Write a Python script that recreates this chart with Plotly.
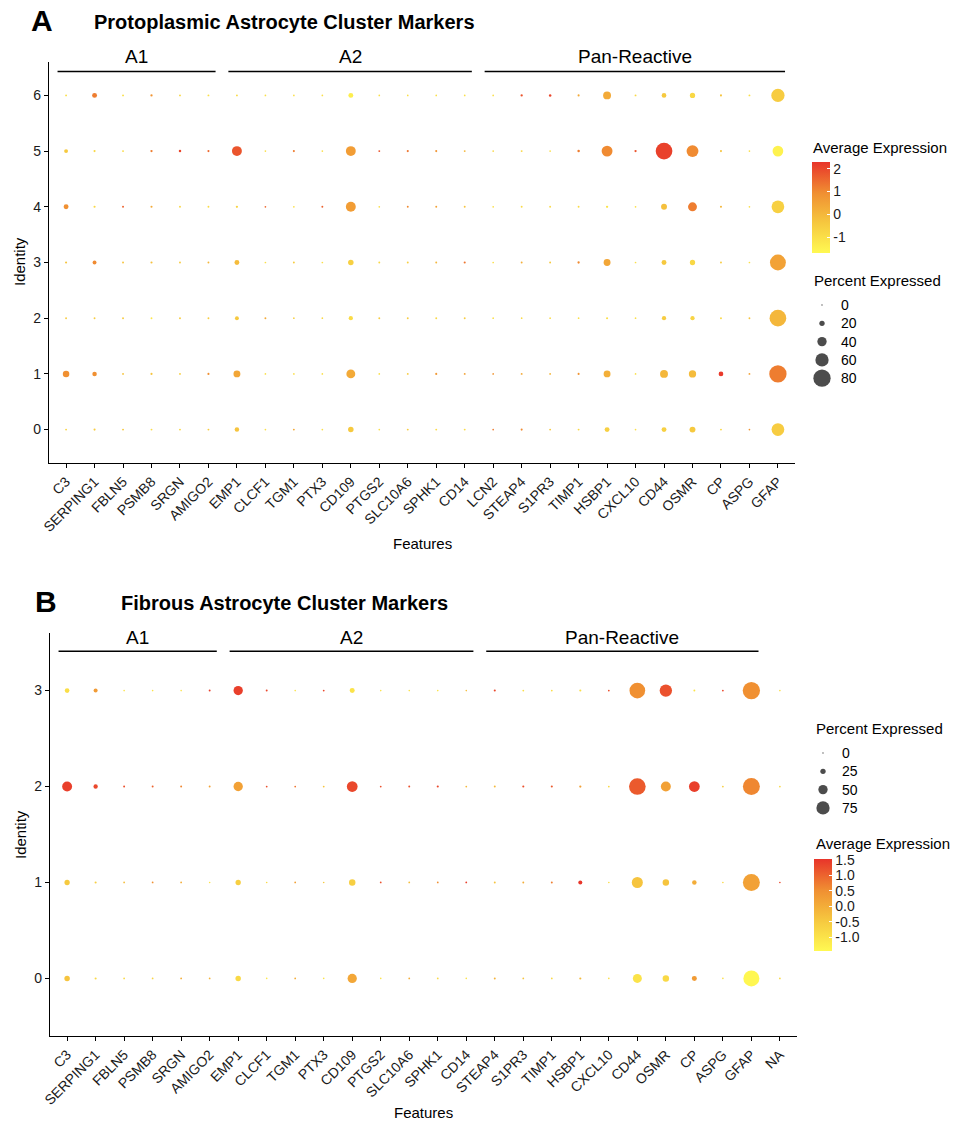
import plotly.graph_objects as go

# ---------------- data ----------------
features_A = ["C3", "SERPING1", "FBLN5", "PSMB8", "SRGN", "AMIGO2", "EMP1", "CLCF1", "TGM1",
              "PTX3", "CD109", "PTGS2", "SLC10A6", "SPHK1", "CD14", "LCN2", "STEAP4", "S1PR3",
              "TIMP1", "HSBP1", "CXCL10", "CD44", "OSMR", "CP", "ASPG", "GFAP"]
features_B = ["C3", "SERPING1", "FBLN5", "PSMB8", "SRGN", "AMIGO2", "EMP1", "CLCF1", "TGM1",
              "PTX3", "CD109", "PTGS2", "SLC10A6", "SPHK1", "CD14", "STEAP4", "S1PR3",
              "TIMP1", "HSBP1", "CXCL10", "CD44", "OSMR", "CP", "ASPG", "GFAP", "NA"]
identities_A = [0, 1, 2, 3, 4, 5, 6]
identities_B = [0, 1, 2, 3]

# percent expressed, one list per identity (rows 0..6)
pct_A = [
    [3, 4, 3, 3, 3, 3, 16, 2, 3, 2, 21, 2, 3, 3, 3, 2, 4, 3, 3, 18, 2, 18, 23, 3, 2, 57],
    [26, 16, 3, 4, 3, 4, 28, 2, 2, 2, 38, 2, 3, 4, 3, 2, 3, 3, 4, 28, 2, 33, 30, 17, 3, 80],
    [3, 3, 3, 3, 3, 3, 13, 3, 2, 2, 15, 3, 3, 3, 3, 2, 2, 2, 2, 4, 2, 15, 15, 3, 3, 77],
    [4, 13, 3, 4, 3, 3, 18, 2, 3, 2, 21, 3, 3, 3, 4, 2, 3, 3, 5, 28, 2, 18, 20, 3, 2, 73],
    [18, 4, 3, 4, 3, 3, 5, 2, 2, 3, 43, 2, 3, 3, 3, 2, 3, 3, 3, 5, 2, 23, 38, 4, 2, 57],
    [13, 4, 3, 5, 6, 4, 43, 2, 4, 2, 43, 3, 4, 4, 3, 2, 3, 2, 6, 48, 5, 77, 53, 4, 2, 47],
    [3, 18, 3, 5, 3, 3, 3, 2, 2, 2, 18, 2, 2, 2, 2, 2, 5, 6, 4, 33, 3, 17, 20, 4, 3, 60],
]
# average expression (scaled), one list per identity (rows 0..6)
avg_A = [
    [-0.7, -0.5, -0.4, -0.9, -0.8, -0.5, -0.3, -1.0, 0.3, -1.0, -0.4, -1.0, -0.5, -0.9, -0.9,
     1.2, 1.0, -0.4, -0.8, -0.6, -1.0, -0.6, -0.4, -0.8, 0.8, -0.5],
    [0.9, 0.9, -0.3, -0.3, -0.6, 0.9, 0.4, -1.0, -1.0, -1.0, 0.3, -1.0, -0.5, 0.7, 0.5,
     0.8, 0.3, 0.0, 0.8, 0.2, -1.0, 0.0, -0.1, 2.2, 0.5, 1.2],
    [-0.5, -0.5, -0.5, -1.2, -0.5, -0.5, -0.4, 0.3, -0.6, -0.8, -0.9, -0.5, -0.5, -0.8, -0.5,
     -1.0, -0.9, -0.9, -1.0, -1.0, -1.0, -0.5, -0.7, -0.8, -0.3, 0.0],
    [-0.3, 1.0, -0.3, -0.2, -0.5, 0.0, -0.1, -1.0, -0.5, -1.0, -0.6, -0.8, -0.6, 0.0, 1.3,
     -1.0, 0.2, -0.4, 1.0, 0.4, -1.0, -0.4, -0.8, -0.5, -1.0, 0.5],
    [0.9, -0.8, 1.6, 0.3, -0.8, -0.9, -0.7, 1.5, -1.0, 1.6, 0.6, -1.0, 1.0, 0.5, -0.3,
     -1.0, -0.9, -0.9, -0.9, -1.1, -1.0, -0.2, 1.2, 0.0, -1.0, -0.6],
    [-0.4, -0.8, -0.9, 1.2, 2.0, 1.5, 1.8, -1.0, 1.2, -1.0, 0.6, 1.8, 1.3, 0.8, 0.0,
     -0.8, -0.8, -1.0, 1.2, 1.0, 1.8, 2.1, 1.0, -0.3, -1.0, -1.5],
    [-1.0, 1.2, -1.0, 0.8, -0.8, -1.0, -0.9, -1.0, -1.0, -1.0, -1.4, -1.0, -1.0, -1.0, -1.0,
     -1.0, 1.8, 2.0, 0.3, 0.3, -0.8, -0.4, -0.8, -0.3, -1.0, -0.5],
]

pct_B = [
    [26, 5, 3, 3, 3, 3, 26, 2, 3, 2, 50, 2, 3, 3, 2, 4, 3, 3, 5, 2, 48, 32, 23, 2, 92, 3],
    [25, 5, 3, 3, 3, 2, 25, 2, 3, 2, 32, 3, 3, 3, 3, 4, 4, 4, 17, 2, 61, 32, 20, 2, 98, 2],
    [54, 19, 4, 4, 4, 4, 50, 3, 3, 3, 59, 3, 4, 5, 3, 4, 5, 5, 6, 3, 96, 54, 59, 3, 98, 3],
    [21, 17, 2, 2, 2, 4, 50, 4, 2, 3, 23, 2, 2, 2, 2, 5, 3, 3, 5, 3, 90, 69, 4, 3, 100, 2],
]
avg_B = [
    [-0.4, -0.8, -0.8, -0.7, 0.0, -0.1, -0.8, -1.1, 0.0, -1.0, 0.1, -1.0, 0.0, -0.8, -1.0,
     -0.1, -0.4, -0.8, -0.2, -0.9, -1.0, -0.8, 0.3, -0.9, -1.4, -0.8],
    [-0.5, -0.6, -0.3, 0.5, 0.0, -1.0, -0.6, -0.8, 0.2, -0.5, -0.6, 1.2, -0.3, 0.5, 1.4,
     -0.4, 0.0, 0.7, 1.5, -0.9, -0.4, -0.4, 0.0, -0.8, 0.2, 1.3],
    [1.4, 1.3, 1.2, 1.0, 0.6, 0.2, 0.2, 1.2, 0.8, -0.4, 1.3, 1.2, 1.2, 1.3, -0.2,
     -0.2, 1.2, 1.1, 0.2, -0.8, 1.1, 0.2, 1.4, -0.6, 0.6, -0.8],
    [-0.9, 0.3, -1.0, -1.0, -1.0, 1.4, 1.4, 1.3, -1.0, 1.3, -1.0, -1.0, -1.0, -1.0, -0.3,
     1.3, -0.9, -0.9, -0.9, 1.2, 0.5, 1.2, -1.0, 1.3, 0.5, -0.9],
]

group_names = ["A1", "A2", "Pan-Reactive"]
groups_A = [("C3", "AMIGO2"), ("EMP1", "CD14"), ("LCN2", "GFAP")]
groups_B = [("C3", "AMIGO2"), ("EMP1", "CD14"), ("STEAP4", "GFAP")]

size_legend_A = [0, 20, 40, 60, 80]
size_legend_B = [0, 25, 50, 75]
color_range_A = (-1.70, 2.29)
color_range_B = (-1.44, 1.52)
color_ticks_A = [-1, 0, 1, 2]
color_ticks_B = [-1.0, -0.5, 0.0, 0.5, 1.0, 1.5]

# ---------------- styling helpers ----------------
W, H = 962, 1124
FONT = "Liberation Sans, Arial, Helvetica, sans-serif"
COLORSCALE = [[0.0, "#FFF952"], [0.33, "#F6C83F"], [0.66, "#F08F32"], [1.0, "#E8342A"]]


def px(x):
    return x / W


def py(y):
    return 1 - y / H


def size_A(p):
    return 1.3 + 0.2 * p


def size_B(p):
    return 1.3 + 0.16 * p


fig = go.Figure()


def add_panel(features, idents, pct, avg, sizef, xa, ya, cax):
    xs, ys, ss, cs = [], [], [], []
    for r, ident in enumerate(idents):
        for i, _ in enumerate(features):
            xs.append(i)
            ys.append(ident)
            ss.append(sizef(pct[r][i]))
            cs.append(avg[r][i])
    fig.add_trace(go.Scatter(
        x=xs, y=ys, mode="markers", xaxis=xa, yaxis=ya, showlegend=False,
        marker=dict(size=ss, color=cs, coloraxis=cax, line=dict(width=0), opacity=1),
        hoverinfo="skip"))


add_panel(features_A, identities_A, pct_A, avg_A, size_A, "x", "y", "coloraxis")
add_panel(features_B, identities_B, pct_B, avg_B, size_B, "x2", "y2", "coloraxis2")


# size legends on their own pixel-unit axes
def add_size_legend(values, sizef, xa, ya, x0, y0, step):
    fig.add_trace(go.Scatter(
        x=[x0] * len(values), y=[y0 + k * step for k in range(len(values))],
        mode="markers", xaxis=xa, yaxis=ya, showlegend=False, hoverinfo="skip",
        marker=dict(size=[sizef(v) for v in values], color="black", line=dict(width=0))))


add_size_legend(size_legend_A, size_A, "x3", "y3", 822, 305, 18.3)
add_size_legend(size_legend_B, size_B, "x4", "y4", 823, 753, 18.3)

axis_common = dict(showline=True, linecolor="black", linewidth=1.1, ticks="outside",
                   ticklen=4, tickcolor="black", tickwidth=1.1, showgrid=False,
                   zeroline=False, automargin=False,
                   tickfont=dict(family=FONT, size=14, color="#1a1a1a"))

hidden = dict(visible=False, showgrid=False, zeroline=False, automargin=False)


def fmt(v, nd):
    return f"{v:.{nd}f}".replace("\u2212", "-")


layout = dict(
    width=W, height=H, margin=dict(l=0, r=0, t=0, b=0, autoexpand=False),
    paper_bgcolor="white", plot_bgcolor="white",
    font=dict(family=FONT, color="black"),
    xaxis=dict(domain=[px(49), px(795)], range=[-0.6, len(features_A) - 0.4],
               tickvals=list(range(len(features_A))), ticktext=features_A, tickangle=-45,
               anchor="y", **axis_common),
    yaxis=dict(domain=[py(463), py(62)], range=[-0.6, max(identities_A) + 0.6],
               tickvals=identities_A, anchor="x", **axis_common),
    xaxis2=dict(domain=[px(50), px(797)], range=[-0.6, len(features_B) - 0.4],
                tickvals=list(range(len(features_B))), ticktext=features_B, tickangle=-45,
                anchor="y2", **axis_common),
    yaxis2=dict(domain=[py(1036), py(633)], range=[-0.6, max(identities_B) + 0.6],
                tickvals=identities_B, anchor="x2", **axis_common),
    xaxis3=dict(domain=[px(800), px(880)], range=[800, 880], anchor="y3", **hidden),
    yaxis3=dict(domain=[py(395), py(290)], range=[395, 290], anchor="x3", **hidden),
    xaxis4=dict(domain=[px(800), px(880)], range=[800, 880], anchor="y4", **hidden),
    yaxis4=dict(domain=[py(820), py(740)], range=[820, 740], anchor="x4", **hidden),
    coloraxis=dict(colorscale=COLORSCALE, cmin=color_range_A[0], cmax=color_range_A[1],
                   colorbar=dict(x=px(812), xanchor="left", y=py(207.5), yanchor="middle",
                                 len=91, lenmode="pixels", thickness=18,
                                 thicknessmode="pixels", outlinewidth=0, ticks="inside",
                                 ticklen=3, tickcolor="white", tickvals=color_ticks_A,
                                 ticktext=[fmt(v, 0) for v in color_ticks_A],
                                 xpad=0, ypad=0,
                                 tickfont=dict(family=FONT, size=14, color="#1a1a1a"))),
    coloraxis2=dict(colorscale=COLORSCALE, cmin=color_range_B[0], cmax=color_range_B[1],
                    colorbar=dict(x=px(814), xanchor="left", y=py(905), yanchor="middle",
                                  len=92, lenmode="pixels", thickness=18,
                                  thicknessmode="pixels", outlinewidth=0, ticks="inside",
                                  ticklen=3, tickcolor="white", tickvals=color_ticks_B,
                                  ticktext=[fmt(v, 1) for v in color_ticks_B],
                                  xpad=0, ypad=0,
                                  tickfont=dict(family=FONT, size=14, color="#1a1a1a"))),
)
fig.update_layout(**layout)

shapes = []
annotations = []


def add_groups(features, groups, xref, yref, yline, ytext_px):
    for name, (a, b) in zip(group_names, groups):
        i0 = features.index(a) - 0.3
        i1 = features.index(b) + 0.25
        shapes.append(dict(type="line", xref=xref, yref=yref, x0=i0, x1=i1, y0=yline,
                           y1=yline, line=dict(color="black", width=1.6)))
        annotations.append(dict(text=name, xref=xref, yref="paper", x=(i0 + i1) / 2,
                                y=py(ytext_px), showarrow=False, xanchor="center",
                                yanchor="middle",
                                font=dict(family=FONT, size=19, color="black")))


add_groups(features_A, groups_A, "x", "y", 6.43, 57)
add_groups(features_B, groups_B, "x2", "y2", 3.41, 637)


def ann(text, x, y, size, bold=False, xanchor="left", angle=0):
    annotations.append(dict(text=f"<b>{text}</b>" if bold else text, xref="paper",
                            yref="paper", x=px(x), y=py(y), showarrow=False,
                            xanchor=xanchor, yanchor="middle", textangle=angle,
                            font=dict(family=FONT, size=size, color="black")))


# panel letters and titles
ann("A", 29, 21, 30, bold=True)
ann("Protoplasmic Astrocyte Cluster Markers", 92, 22, 20, bold=True)
ann("B", 33, 601, 30, bold=True)
ann("Fibrous Astrocyte Cluster Markers", 119, 603, 20, bold=True)
# axis titles
ann("Features", 422, 543, 15, xanchor="center")
ann("Identity", 20, 262, 15, xanchor="center", angle=-90)
ann("Features", 423, 1112, 15, xanchor="center")
ann("Identity", 20, 835, 15, xanchor="center", angle=-90)
# legend titles
ann("Average Expression", 811, 147, 15)
ann("Percent Expressed", 812, 280, 15)
ann("Percent Expressed", 814, 728, 15)
ann("Average Expression", 814, 843, 15)
# size legend labels
for k, v in enumerate(size_legend_A):
    ann(str(v), 839, 305 + k * 18.3, 14)
for k, v in enumerate(size_legend_B):
    ann(str(v), 840, 753 + k * 18.3, 14)

fig.update_layout(shapes=shapes, annotations=annotations)
fig.write_html(
    "out.html",
    config={"displayModeBar": False},
    post_script="document.body.style.margin='0';document.body.style.overflow='hidden';",
)
